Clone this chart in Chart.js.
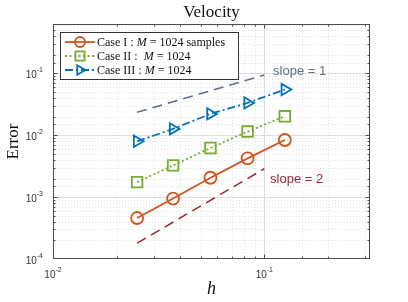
<!DOCTYPE html>
<html>
<head>
<meta charset="utf-8">
<script src="https://cdn.jsdelivr.net/npm/chart.js@4.4.1/dist/chart.umd.min.js"></script>
<style>
  html, body { margin: 0; padding: 0; background: #fff; }
</style>
</head>
<body>
<canvas id="chartCanvas" width="408" height="302"></canvas>
<script>
// mesh sizes and errors
const h = [0.025, 0.037, 0.0556, 0.0833, 0.125];
const caseI = [4.6e-4, 9.5e-4, 2.06e-3, 4.24e-3, 8.4e-3];
const caseII = [1.75e-3, 3.26e-3, 6.24e-3, 1.15e-2, 2.03e-2];
const caseIII = [8.0e-3, 1.27e-2, 2.22e-2, 3.34e-2, 5.5e-2];

// reference slope lines
const slopeX = [0.025, 0.1];
const slope1 = [0.0236, 0.0944];
const slope2 = [1.8e-4, 2.88e-3];

// decade tick labels (base 10, exponent)
const xTicks = [0.01, 0.1];
const xTickExp = ["-2", "-1"];
const yTicks = [1e-4, 1e-3, 1e-2, 1e-1];
const yTickExp = ["-4", "-3", "-2", "-1"];

const legendText = [
  [["Case I : ", false], ["M", true], [" = 1024 samples", false]],
  [["Case II :  ", false], ["M", true], [" = 1024", false]],
  [["Case III : ", false], ["M", true], [" = 1024", false]]
];

const pts = (xs, ys) => xs.map((x, i) => ({ x, y: ys[i] }));

const SERIF = "'Liberation Serif', 'DejaVu Serif', serif";
const SANS = "'Liberation Sans', Arial, sans-serif";

const isDecade = v => Math.abs(Math.log10(v) - Math.round(Math.log10(v))) < 1e-6;

const matlabAxes = {
  id: "matlabAxes",
  beforeDatasetsDraw(chart) {
    const { ctx, chartArea: a, scales } = chart;
    ctx.save();
    ctx.lineWidth = 1;
    // minor dotted grid, then major solid grid
    [false, true].forEach(major => {
      ctx.strokeStyle = major ? "#dedede" : "#e4e4e4";
      ctx.setLineDash(major ? [] : [1, 2]);
      scales.x.ticks.forEach(t => {
        if (isDecade(t.value) !== major) return;
        const px = Math.round(scales.x.getPixelForValue(t.value)) + 0.5;
        if (px <= a.left + 1 || px >= a.right - 1) return;
        ctx.beginPath(); ctx.moveTo(px, a.top); ctx.lineTo(px, a.bottom); ctx.stroke();
      });
      scales.y.ticks.forEach(t => {
        if (isDecade(t.value) !== major) return;
        const py = Math.round(scales.y.getPixelForValue(t.value)) + 0.5;
        if (py <= a.top + 1 || py >= a.bottom - 1) return;
        ctx.beginPath(); ctx.moveTo(a.left, py); ctx.lineTo(a.right, py); ctx.stroke();
      });
    });
    ctx.restore();
  },
  afterDraw(chart) {
    const { ctx, chartArea: a, scales } = chart;
    ctx.save();
    ctx.setLineDash([]);
    ctx.strokeStyle = "#4d4d4d";
    ctx.lineWidth = 1;
    const L = Math.round(a.left) + 0.5, R = Math.round(a.right) - 0.5;
    const T = Math.round(a.top) + 0.5, B = Math.round(a.bottom) - 0.5;
    ctx.strokeRect(L, T, R - L, B - T);

    // inward ticks on all four sides
    ctx.beginPath();
    scales.x.ticks.forEach(t => {
      const px = Math.round(scales.x.getPixelForValue(t.value)) + 0.5;
      if (px <= L + 1 || px >= R - 1) return;
      const len = isDecade(t.value) ? 4 : 2;
      ctx.moveTo(px, B); ctx.lineTo(px, B - len);
      ctx.moveTo(px, T); ctx.lineTo(px, T + len);
    });
    scales.y.ticks.forEach(t => {
      const py = Math.round(scales.y.getPixelForValue(t.value)) + 0.5;
      if (py <= T + 1 || py >= B - 1) return;
      const len = isDecade(t.value) ? 4 : 2;
      ctx.moveTo(L, py); ctx.lineTo(L + len, py);
      ctx.moveTo(R, py); ctx.lineTo(R - len, py);
    });
    ctx.stroke();

    // tick labels 10^n
    ctx.fillStyle = "#333";
    ctx.textBaseline = "middle";
    yTicks.forEach((v, i) => {
      const py = scales.y.getPixelForValue(v);
      ctx.font = "7px " + SANS;
      ctx.textAlign = "right";
      ctx.fillText(yTickExp[i], a.left - 10, py - 3);
      const ew = ctx.measureText(yTickExp[i]).width;
      ctx.font = "10px " + SANS;
      ctx.fillText("10", a.left - 10 - ew, py + 2);
    });
    xTicks.forEach((v, i) => {
      const px = scales.x.getPixelForValue(v);
      ctx.font = "10px " + SANS;
      const bw = ctx.measureText("10").width;
      ctx.font = "7px " + SANS;
      const ew = ctx.measureText(xTickExp[i]).width;
      const x0 = px - (bw + ew) / 2;
      ctx.textAlign = "left";
      ctx.fillText(xTickExp[i], x0 + bw, a.bottom + 11);
      ctx.font = "10px " + SANS;
      ctx.fillText("10", x0, a.bottom + 16);
    });

    // title and axis titles
    ctx.fillStyle = "#111";
    ctx.textAlign = "center";
    ctx.font = "17px " + SERIF;
    ctx.fillText("Velocity", (a.left + a.right) / 2, 13);
    ctx.font = "italic 18px " + SERIF;
    ctx.fillText("h", (a.left + a.right) / 2, 289);
    ctx.save();
    ctx.translate(14, (a.top + a.bottom) / 2);
    ctx.rotate(-Math.PI / 2);
    ctx.font = "17px " + SERIF;
    ctx.fillText("Error", 0, 0);
    ctx.restore();

    // slope annotations
    ctx.textAlign = "left";
    ctx.font = "13px " + SANS;
    ctx.fillStyle = "#5f6f86";
    ctx.fillText("slope = 1", scales.x.getPixelForValue(0.11), scales.y.getPixelForValue(0.107));
    ctx.fillStyle = "#a0272f";
    ctx.fillText("slope = 2", scales.x.getPixelForValue(0.1065), scales.y.getPixelForValue(1.91e-3));

    // legend box
    const bx = 60.5, by = 32.5, bw = 178, bh = 47;
    ctx.fillStyle = "#fff";
    ctx.fillRect(bx, by, bw, bh);
    ctx.strokeStyle = "#333";
    ctx.lineWidth = 1;
    ctx.strokeRect(bx, by, bw, bh);
    const rows = [42, 56, 70];
    legendText.forEach((parts, i) => {
      const ds = chart.data.datasets[i];
      const y = rows[i];
      ctx.save();
      ctx.strokeStyle = ds.borderColor;
      ctx.lineWidth = ds.borderWidth;
      ctx.setLineDash(ds.borderDash || []);
      ctx.beginPath(); ctx.moveTo(65, y); ctx.lineTo(95, y); ctx.stroke();
      ctx.setLineDash([]);
      ctx.fillStyle = "rgba(0,0,0,0)";
      ctx.lineWidth = ds.pointBorderWidth;
      Chart.helpers.drawPoint(ctx, {
        pointStyle: ds.pointStyle, rotation: ds.pointRotation || 0,
        radius: ds.pointRadius - 1, borderWidth: ds.pointBorderWidth
      }, 80, y);
      ctx.restore();
      let tx = 97;
      ctx.fillStyle = "#111";
      ctx.textAlign = "left";
      parts.forEach(([t, it]) => {
        ctx.font = (it ? "italic " : "") + "12px " + SERIF;
        ctx.fillText(t, tx, y + 0.5);
        tx += ctx.measureText(t).width;
      });
    });
    ctx.restore();
  }
};

const series = (label, data, color, dash, style, radius, rot) => ({
  label, data, showLine: true,
  borderColor: color, borderWidth: 1.8, borderDash: dash,
  pointStyle: style, pointRadius: radius, pointRotation: rot || 0,
  pointBorderColor: color, pointBackgroundColor: "rgba(0,0,0,0)",
  pointBorderWidth: 1.8, pointHoverRadius: radius
});

new Chart(document.getElementById("chartCanvas"), {
  type: "scatter",
  data: {
    datasets: [
      series("Case I", pts(h, caseI), "#d95319", [], "circle", 6),
      series("Case II", pts(h, caseII), "#77ac30", [2, 2.5], "rect", 7.5),
      series("Case III", pts(h, caseIII), "#0072bd", [8, 3, 2, 3], "triangle", 6.5, 90),
      { label: "slope 1", data: pts(slopeX, slope1), showLine: true, borderColor: "#5f6f86",
        borderWidth: 1.5, borderDash: [10, 6], pointRadius: 0 },
      { label: "slope 2", data: pts(slopeX, slope2), showLine: true, borderColor: "#a0272f",
        borderWidth: 1.5, borderDash: [10, 6], pointRadius: 0 }
    ]
  },
  options: {
    responsive: false,
    animation: false,
    devicePixelRatio: 1,
    layout: { padding: { left: 53, top: 24, right: 38, bottom: 43 } },
    plugins: { legend: { display: false }, tooltip: { enabled: false } },
    scales: {
      x: {
        type: "logarithmic", min: 0.01, max: Math.pow(10, -0.5),
        grid: { display: false, drawTicks: false },
        border: { display: false },
        ticks: { display: false },
        afterFit: s => { s.height = 0; }
      },
      y: {
        type: "logarithmic", min: 1e-4, max: Math.pow(10, -0.2),
        grid: { display: false, drawTicks: false },
        border: { display: false },
        ticks: { display: false },
        afterFit: s => { s.width = 0; }
      }
    }
  },
  plugins: [matlabAxes]
});
</script>
</body>
</html>
